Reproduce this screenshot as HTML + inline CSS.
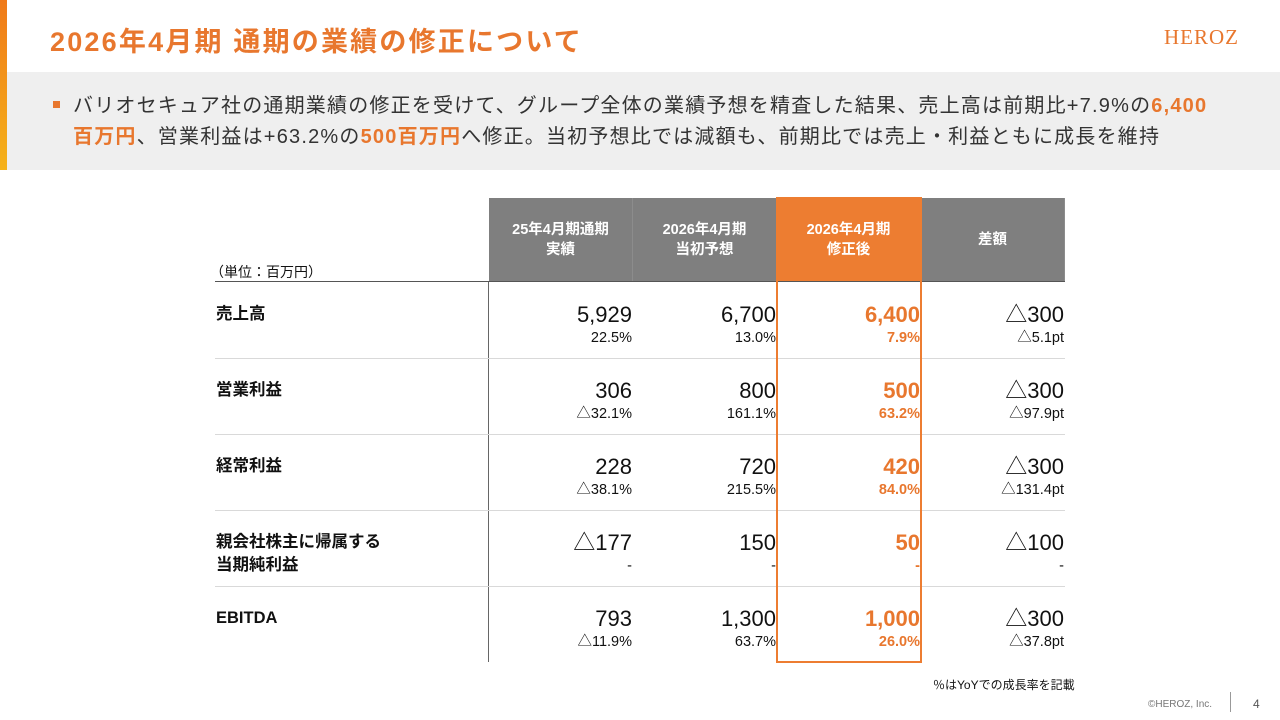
<!DOCTYPE html>
<html><head><meta charset="utf-8"><style>
*{margin:0;padding:0;box-sizing:border-box}
body{width:1280px;height:720px;position:relative;background:#fff;font-family:"Liberation Sans","Noto Sans CJK JP",sans-serif;overflow:hidden;color:#111}
.a{position:absolute;white-space:nowrap}
.o{color:#E8772E}
.hd{position:absolute;top:198px;height:84px;background:#7F7F7F;color:#fff;font-weight:bold;font-size:14.5px;line-height:20px;text-align:center;display:flex;align-items:center;justify-content:center;border-right:1px solid #8c8c8c}
.v{position:absolute;text-align:right;width:140px}
.v .m{font-size:22px;line-height:24px}
.v .s{font-size:14.5px;line-height:18px;margin-top:2px}
.lab{position:absolute;left:216px;font-weight:bold;font-size:16.5px;line-height:23px}
.sep{position:absolute;left:215px;width:850px;height:1px;background:#d9d9d9}
</style></head><body>
<div class="a" style="left:0;top:0;width:7px;height:170px;background:linear-gradient(#F07A1A,#F5B21A)"></div>
<div class="a o" style="left:50px;top:24px;font-size:27px;font-weight:bold;line-height:36px;letter-spacing:2.2px">2026年4月期 通期の業績の修正について</div>
<div class="a o" style="left:1164px;top:25px;font-family:'Liberation Serif',serif;font-size:21px;letter-spacing:1px">HEROZ</div>
<div class="a" style="left:7px;top:72px;width:1273px;height:98px;background:#EFEFEF"></div>
<div class="a" style="left:53px;top:101px;width:7px;height:7px;background:#E8772E"></div>
<div class="a" style="left:73px;top:91px;font-size:20px;line-height:31px;color:#333;letter-spacing:1.2px">バリオセキュア社の通期業績の修正を受けて、グループ全体の業績予想を精査した結果、売上高は前期比+7.9%の<b class="o">6,400</b><br><b class="o">百万円</b>、営業利益は+63.2%の<b class="o">500百万円</b>へ修正。当初予想比では減額も、前期比では売上・利益ともに成長を維持</div>

<div class="a" style="left:210px;top:262px;font-size:14px">（単位：百万円）</div>
<div class="hd" style="left:489px;width:144px">25年4月期通期<br>実績</div>
<div class="hd" style="left:633px;width:144px">2026年4月期<br>当初予想</div>
<div class="hd" style="left:777px;width:144px;background:#ED7D31">2026年4月期<br>修正後</div>
<div class="hd" style="left:921px;width:144px">差額</div>
<div class="a" style="left:215px;top:281px;width:850px;height:1px;background:#555"></div>
<div class="a" style="left:488px;top:282px;width:1px;height:380px;background:#666"></div>

<div id="rows"></div>
<div class="a" style="left:776px;top:197px;width:146px;height:466px;border:2px solid #ED7D31"></div>

<div class="a" style="left:933px;top:676px;font-size:12px">％はYoYでの成長率を記載</div>
<div class="a" style="left:1148px;top:699px;font-size:10px;color:#777">©HEROZ, Inc.</div>
<div class="a" style="left:1230px;top:692px;width:1px;height:20px;background:#999"></div>
<div class="a" style="left:1253px;top:697px;font-size:12px;color:#555">4</div>
<script>
const labels=["売上高","営業利益","経常利益","親会社株主に帰属する<br>当期純利益","EBITDA"];
const actual=["5,929","306","228","△177","793"];
const actualPct=["22.5%","△32.1%","△38.1%","-","△11.9%"];
const initial=["6,700","800","720","150","1,300"];
const initialPct=["13.0%","161.1%","215.5%","-","63.7%"];
const revised=["6,400","500","420","50","1,000"];
const revisedPct=["7.9%","63.2%","84.0%","-","26.0%"];
const diff=["△300","△300","△300","△100","△300"];
const diffPct=["△5.1pt","△97.9pt","△131.4pt","-","△37.8pt"];
const root=document.getElementById('rows');
const cols=[[actual,actualPct,633,''],[initial,initialPct,777,''],[revised,revisedPct,921,'o'],[diff,diffPct,1065,'']];
labels.forEach((l,i)=>{
  const top=282+i*76;
  const lab=document.createElement('div');lab.className='lab';lab.style.top=(top+21)+'px';lab.innerHTML=l;
  
  
  root.appendChild(lab);
  cols.forEach(c=>{
    const v=document.createElement('div');v.className='v '+c[3];
    v.style.left=(c[2]-141)+'px';v.style.top=(top+21)+'px';
    v.innerHTML='<div class="m" style="'+(c[3]?'font-weight:bold':'')+'">'+c[0][i]+'</div><div class="s" style="'+(c[3]?'font-weight:bold':'')+'">'+c[1][i]+'</div>';
    
    
    root.appendChild(v);
  });
  if(i<4){const s=document.createElement('div');s.className='sep';s.style.top=(top+76)+'px';
  
  
  root.appendChild(s);}
});
</script>
</body></html>
